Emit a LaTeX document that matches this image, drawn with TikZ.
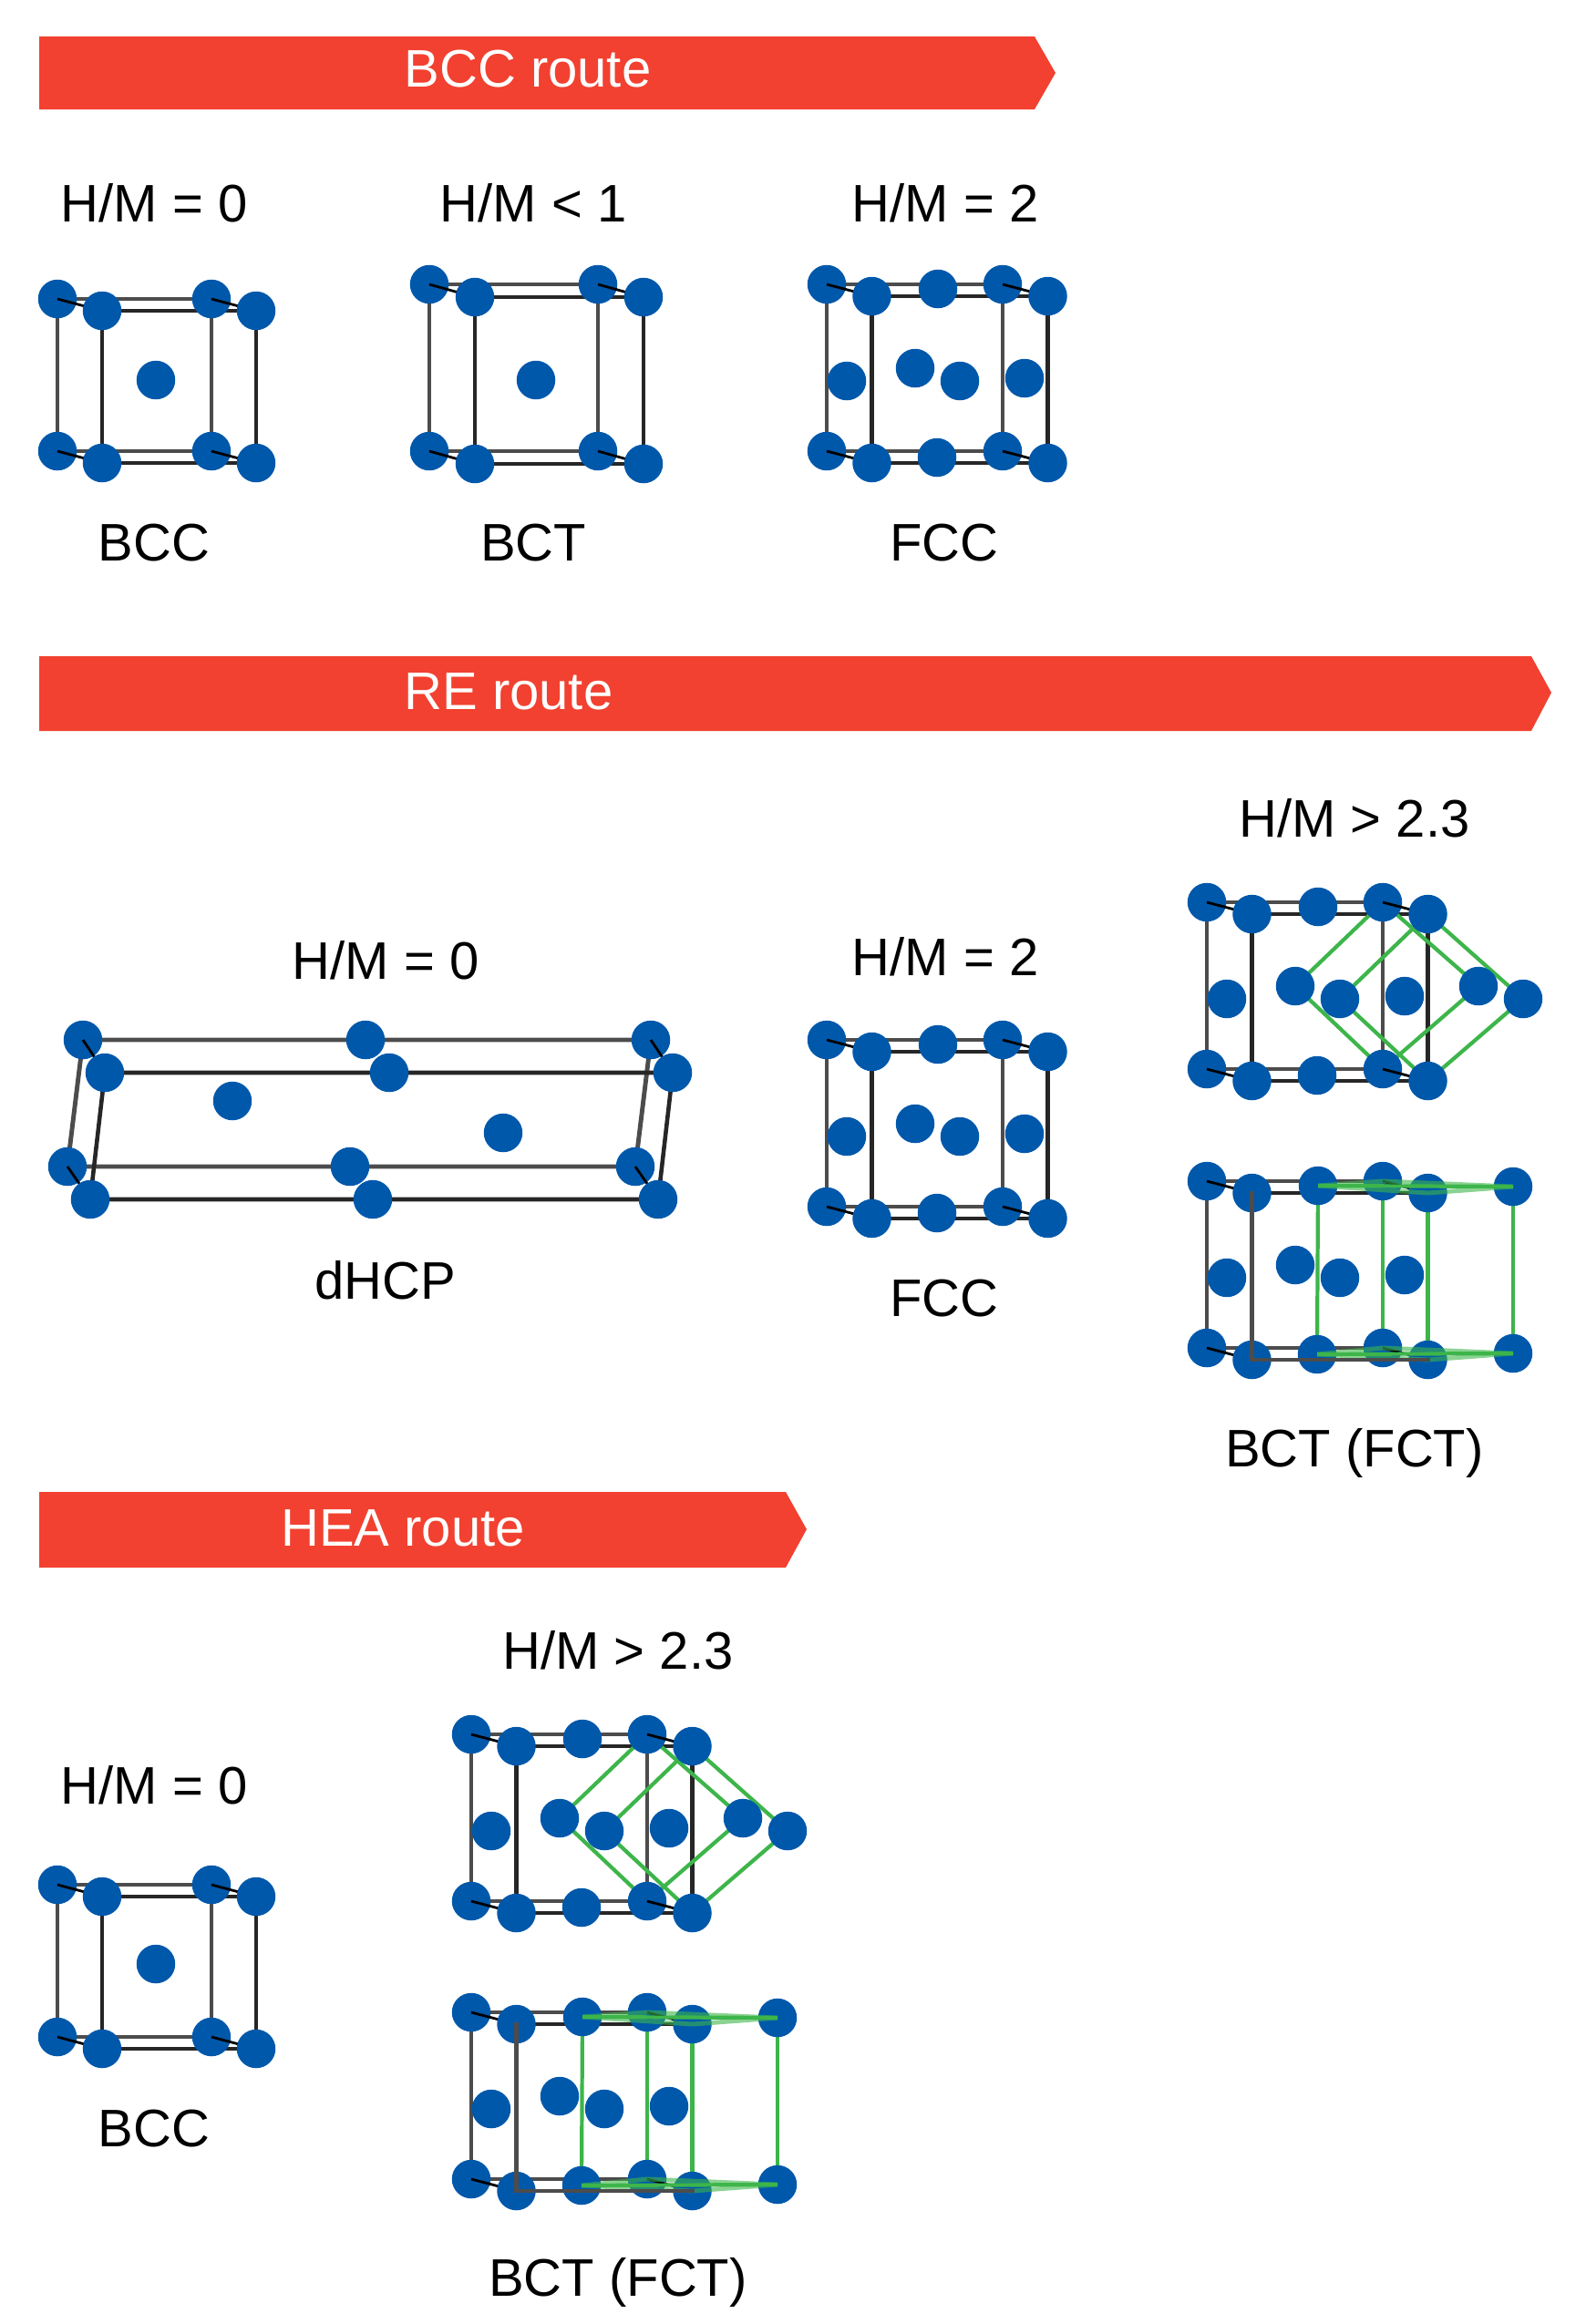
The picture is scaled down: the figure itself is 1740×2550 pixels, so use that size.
\documentclass[tikz,border=0pt]{standalone}
\usepackage{fontspec}
\setmainfont{Liberation Sans}
\usetikzlibrary{backgrounds}

\pgfdeclarelayer{frontatoms}
\pgfsetlayers{background,main,frontatoms}

\definecolor{atomblue}{HTML}{0058AB}
\definecolor{routered}{HTML}{F24130}
\definecolor{fctgreen}{HTML}{3DB54A}
\tikzset{
  atom/.style={circle,fill=atomblue,inner sep=0pt,minimum size=.85cm},
  backedge/.style={draw=black!70,line width=2.8pt},
  frontedge/.style={draw=black!85,line width=2.6pt},
  linkedge/.style={draw=black,line width=1.6pt},
  fctedge/.style={draw=fctgreen,line width=2.4pt},
  fctfaint/.style={draw=fctgreen,line width=2.8pt,draw opacity=.6},
  label/.style={font=\fontsize{33}{40}\selectfont,text height=23.8pt,text depth=0pt,inner sep=0pt},
  route/.style={fill=routered},
  routetext/.style={label,text=white}
}

\newcommand{\cubecell}[7]{
  \begin{scope}[shift={(#2,#3)}]
    \node[atom](#1a)at(0,0){};
    \node[atom](#1b)at(#4,0){};
    \node[atom](#1c)at(0,#5){};
    \node[atom](#1d)at(#4,#5){};
    \begin{pgfonlayer}{frontatoms}
      \node[atom](#1p)at(#6,#7){};
      \node[atom](#1q)at(#4+#6,#7){};
      \node[atom](#1r)at(#6,#5+#7){};
      \node[atom](#1s)at(#4+#6,#5+#7){};
    \end{pgfonlayer}
    \begin{pgfonlayer}{background}
      \path[backedge](#1a.center)--(#1b.center)--(#1d.center)--(#1c.center)--cycle;
      \path[frontedge](#1p.center)--(#1q.center)--(#1s.center)--(#1r.center)--cycle;
    \end{pgfonlayer}
    \foreach \from/\to in {a/p,b/q,c/r,d/s}
      \path[linkedge](#1\from.center)--(#1\to.center);
  \end{scope}
}

\newcommand{\fcccell}[3]{
  \cubecell{#1}{#2}{#3}{193}{183}{49.5}{13}
  \begin{scope}[shift={(#2,#3)}]
    \node[atom](#1t)at(122,5){};
    \node[atom](#1u)at(121,190){};
    \node[atom](#1l)at(22,106){};
    \node[atom](#1m)at(97,92){};
    \node[atom](#1n)at(146,106){};
    \node[atom](#1o)at(217,103){};
  \end{scope}
}

\newcommand{\fctdiamond}[3]{
  \fcccell{#1}{#2}{#3}
  \begin{scope}[shift={(#2,#3)}]
    \node[atom](#1v)at(298,92){};
    \node[atom](#1w)at(347,106){};
    \begin{pgfonlayer}{background}
      \path[fctedge](#1m.center)--(#1b.center)--(#1v.center)--(#1d.center)--cycle;
      \path[fctedge](#1n.center)--(#1q.center)--(#1w.center)--(#1s.center)--cycle;
    \end{pgfonlayer}
  \end{scope}
}

\newcommand{\fctbox}[3]{
  \fcccell{#1}{#2}{#3}
  \begin{scope}[shift={(#2,#3)}]
    \node[atom](#1v)at(336,6){};
    \node[atom](#1w)at(336,189){};
    \begin{pgfonlayer}{background}
      \foreach \from/\to in {t/u,b/d,q/s,v/w}
        \path[fctedge](#1\from.center)--(#1\to.center);
    \end{pgfonlayer}
    \begin{pgfonlayer}{frontatoms}
      \path[fctfaint](#1t.center)--(#1b.center)--(#1v.center)--(#1q.center)--cycle;
      \path[fctfaint](#1u.center)--(#1d.center)--(#1w.center)--(#1s.center)--cycle;
      \path[fctedge](#1t.center)--(#1v.center);
      \path[fctedge](#1u.center)--(#1w.center);
      \path[backedge,line cap=rect](#1p.center)--(#1r.center)--(#1s.center);
    \end{pgfonlayer}
  \end{scope}
}

\begin{document}
\begin{tikzpicture}[x=.02cm,y=-.02cm]
  \useasboundingbox (0,0) rectangle (1740,2550);

  \fill[route] (43,40)--(1135,40)--(1158,80)--(1135,120)--(43,120)--cycle;
  \node[routetext](bccroute)at(579,75){BCC route};
  \node[label](bcchma)at(169,223){H/M = 0};
  \node[label](bcchmb)at(585,223){H/M < 1};
  \node[label](bcchmc)at(1037,223){H/M = 2};
  \cubecell{bcc}{63}{328}{169}{167}{49}{13}
  \node[atom](bcccentre)at(171,417){};
  \cubecell{bct}{471}{312}{185}{183}{50}{14}
  \node[atom](bctcentre)at(588,417){};
  \fcccell{fcc}{907}{312}
  \node[label](bcclabel)at(169,595){BCC};
  \node[label](bctlabel)at(585,595){BCT};
  \node[label](fcclabel)at(1036,595){FCC};

  \fill[route] (43,720)--(1680,720)--(1702,760)--(1680,802)--(43,802)--cycle;
  \node[routetext](reroute)at(558,758){RE route};
  \node[label](rehma)at(423,1054){H/M = 0};
  \node[label](rehmb)at(1037,1050){H/M = 2};
  \node[label](rehmc)at(1486,898){H/M > 2.3};
  \begin{scope}[shift={(91,1141)}]
    \node[atom](hcpa)at(0,0){};
    \node[atom](hcpb)at(310,0){};
    \node[atom](hcpc)at(623,0){};
    \node[atom](hcpd)at(-17,139){};
    \node[atom](hcpe)at(293,139){};
    \node[atom](hcpf)at(606,139){};
    \node[atom](hcpm)at(164,67){};
    \node[atom](hcpn)at(461,102){};
    \begin{pgfonlayer}{frontatoms}
      \node[atom](hcpp)at(24,36){};
      \node[atom](hcpq)at(336,36){};
      \node[atom](hcpr)at(647,36){};
      \node[atom](hcps)at(8,175){};
      \node[atom](hcpt)at(318,175){};
      \node[atom](hcpu)at(631,175){};
    \end{pgfonlayer}
    \begin{pgfonlayer}{background}
      \path[backedge](hcpa.center)--(hcpc.center)--(hcpf.center)--(hcpd.center)--cycle;
      \path[frontedge](hcpp.center)--(hcpr.center)--(hcpu.center)--(hcps.center)--cycle;
    \end{pgfonlayer}
    \foreach \from/\to in {a/p,c/r,d/s,f/u}
      \path[linkedge](hcp\from.center)--(hcp\to.center);
  \end{scope}
  \node[label](hcplabel)at(423,1405){dHCP};
  \node[label](refcclabel)at(1036,1424){FCC};
  \node[label](refctlabel)at(1486,1589){BCT (FCT)};
  \fcccell{refcc}{907}{1141}
  \fctdiamond{reup}{1324}{990}
  \fctbox{relow}{1324}{1296}

  \fill[route] (43,1637)--(862,1637)--(885,1678)--(862,1720)--(43,1720)--cycle;
  \node[routetext](hearoute)at(442,1676){HEA route};
  \node[label](heahma)at(169,1959){H/M = 0};
  \node[label](heahmb)at(678,1811){H/M > 2.3};
  \cubecell{hea}{63}{2068}{169}{167}{49}{13}
  \node[atom](heacentre)at(171,2155){};
  \fctdiamond{heaup}{517}{1903}
  \fctbox{healow}{517}{2208}
  \node[label](heabcclabel)at(169,2335){BCC};
  \node[label](heafctlabel)at(678,2499){BCT (FCT)};
\end{tikzpicture}
\end{document}
